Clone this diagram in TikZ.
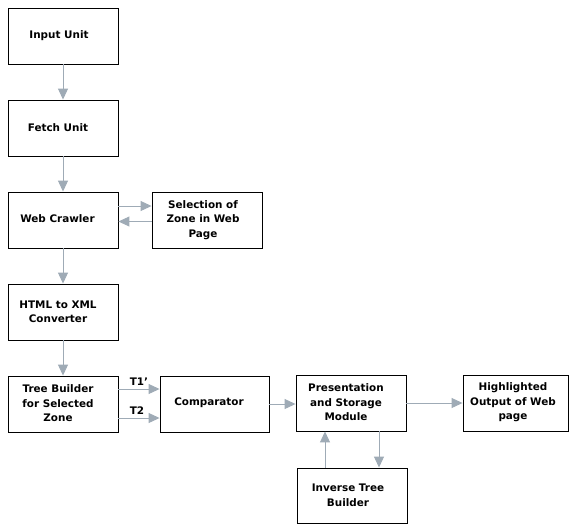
\documentclass[tikz,border=0pt]{standalone}
\usepackage{fontspec}
\setmainfont{DejaVu Sans}
\usetikzlibrary{arrows.meta}
\definecolor{arrowgray}{HTML}{9FABB6}
\begin{document}
\begin{tikzpicture}[x=1pt,y=-1pt,
  box/.style={draw=black,line width=0.9pt,minimum width=110pt,minimum height=56pt,inner sep=0pt},
  txt/.style={font=\fontsize{10.4}{14.5}\selectfont\bfseries,align=center,inner sep=0pt},
  arr/.style={draw=arrowgray,line width=1pt,-{Triangle[length=11pt,width=10pt]}}]
\useasboundingbox (0,0) rectangle (569,523);

% boxes
\node[box] (input) at (63,36) {};
\node[box] (fetch) at (63,128) {};
\node[box] (crawler) at (63,220) {};
\node[box] (select) at (207,220.5) {};
\node[box] (html) at (63,312) {};
\node[box] (tree) at (63,404) {};
\node[box,minimum width=109pt] (comp) at (214.5,404) {};
\node[box] (pres) at (351,403) {};
\node[box,minimum width=105pt] (high) at (515.5,403) {};
\node[box,minimum height=55pt] (inv) at (352,495.5) {};

% box texts
\node[txt] (t-input) at (59,36) {Input Unit};
\node[txt] (t-fetch) at (58,128) {Fetch Unit};
\node[txt] (t-crawler) at (57.5,219) {Web Crawler};
\node[txt] (t-select) at (203,220) {Selection of\\Zone in Web\\Page};
\node[txt] (t-html) at (58,312) {HTML to XML\\Converter};
\node[txt] (t-tree) at (58,403.5) {Tree Builder\\for Selected\\Zone};
\node[txt] (t-comp) at (209,403) {Comparator};
\node[txt] (t-pres) at (346,402.5) {Presentation\\and Storage\\Module};
\node[txt] (t-high) at (513,402.5) {Highlighted\\Output of Web\\page};
\node[txt] (t-inv) at (348,495.5) {Inverse Tree\\Builder};

% connectors
\draw[arr] (input) -- (fetch);
\draw[arr] (fetch) -- (crawler);
\draw[arr] (crawler) -- (html);
\draw[arr] (html) -- (tree);
\draw[arr] ([yshift=14pt]crawler.east) -- ([yshift=14pt]crawler.east -| select.west);
\draw[arr] ([yshift=-1pt]select.west) -- ([yshift=-1pt]select.west -| crawler.east);
\draw[arr] ([yshift=15pt]tree.east) -- ([yshift=15pt]tree.east -| comp.west);
\draw[arr] ([yshift=-14pt]tree.east) -- ([yshift=-14pt]tree.east -| comp.west);
\node[txt] (l-t1) at (139,382) {T1’};
\node[txt] (l-t2) at (137,411) {T2};
\draw[arr] (comp.east) -- (comp.east -| pres.west);
\draw[arr] (pres.east) -- (pres.east -| high.west);
\draw[arr] ([xshift=-27pt]inv.north) -- ([xshift=-27pt]inv.north |- pres.south);
\draw[arr] ([xshift=28pt]pres.south) -- ([xshift=28pt]pres.south |- inv.north);
\end{tikzpicture}
\end{document}
